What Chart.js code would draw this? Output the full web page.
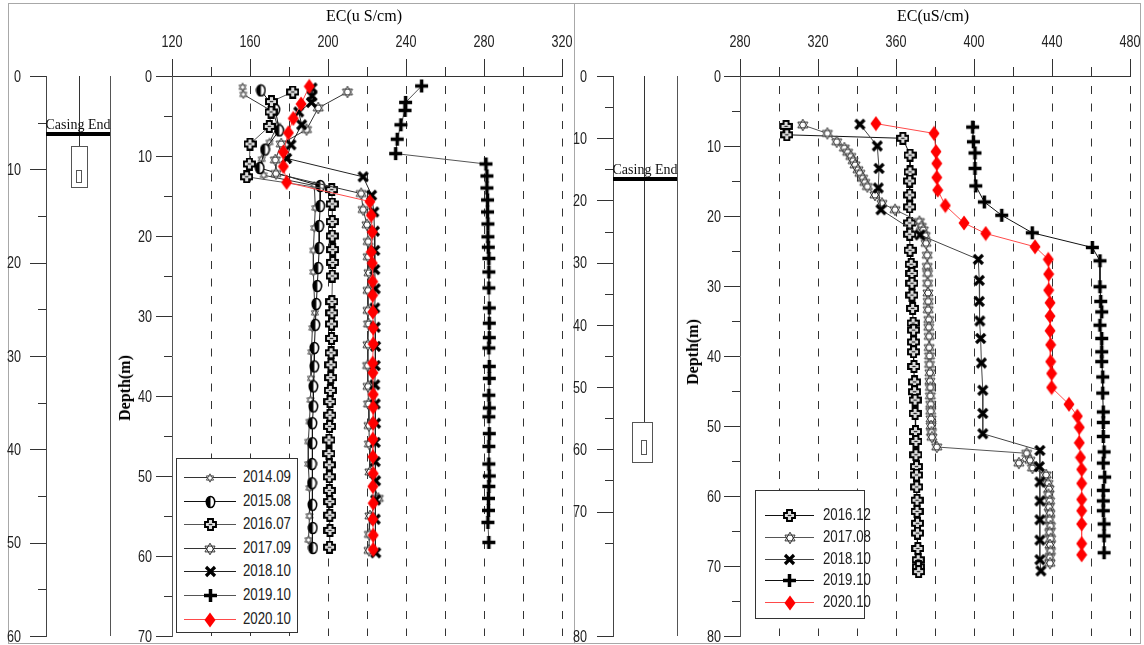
<!DOCTYPE html>
<html>
<head>
<meta charset="utf-8">
<title>EC x Profundidade</title>
<script src="https://cdn.jsdelivr.net/npm/chart.js@4.4.1/dist/chart.umd.min.js"></script>
<style>
  html, body { margin: 0; padding: 0; background: #fff; }
  #page { position: relative; width: 1144px; height: 645px; overflow: hidden; background: #fff; }
  #page > canvas { position: absolute; top: 0; }
  .panel { position: absolute; top: 3px; height: 641px; border: 1px solid #a8a8a8; box-sizing: border-box; }
  .axis-title { position: absolute; font-family: "Liberation Serif", "Times New Roman", serif; font-size: 16px; color: #000; white-space: nowrap; transform: translate(-50%, -50%); }
  .axis-title.vert { transform: translate(-50%, -50%) rotate(-90deg); font-weight: bold; }
  .legend { position: absolute; border: 1px solid #333; background: #fff; box-sizing: border-box; }
  .legend .item { position: absolute; left: 0; width: 100%; height: 20px; }
  .legend .item canvas { position: absolute; left: 0; top: 0; }
  .legend .item span { position: absolute; top: 0; line-height: 20px; font-family: "Liberation Sans", Arial, sans-serif; font-size: 17px; color: #222; transform: scaleX(0.78); transform-origin: left center; }
</style>
</head>
<body>
<div id="page">
  <div class="panel" style="left:8px; width:567px;"></div>
  <div class="panel" style="left:574px; width:567px;"></div>
  <canvas id="wellLeft" width="120" height="645" style="left:0"></canvas>
  <canvas id="ecLeft" width="480" height="645" style="left:100px"></canvas>
  <canvas id="wellRight" width="130" height="645" style="left:570px"></canvas>
  <canvas id="ecRight" width="464" height="645" style="left:680px"></canvas>
  <div class="axis-title" style="left:364px; top:16px">EC(u S/cm)</div>
  <div class="axis-title" style="left:933px; top:16px">EC(uS/cm)</div>
  <div class="axis-title vert" style="left:125px; top:388px">Depth(m)</div>
  <div class="axis-title vert" style="left:693px; top:352px">Depth(m)</div>
  <div class="legend" id="legendLeft" style="left:176px; top:458px; width:122px; height:175px"></div>
  <div class="legend" id="legendRight" style="left:755px; top:490px; width:110px; height:129px"></div>
</div>

<script>
// ---------- Eixos ----------
const leftEcTicks = [120, 160, 200, 240, 280, 320];
const rightEcTicks = [280, 320, 360, 400, 440, 480];
const leftDepthTicks = [0, 10, 20, 30, 40, 50, 60, 70];
const rightDepthTicks = [0, 10, 20, 30, 40, 50, 60, 70, 80];
const wellLeftTicks = [0, 10, 20, 30, 40, 50, 60];
// o eixo do poço da direita vai até 90, mas o último rótulo mostra "80"
const wellRightTickValues = [0, 10, 20, 30, 40, 50, 60, 70, 90];
const wellRightTickLabels = ['0', '10', '20', '30', '40', '50', '60', '70', '80'];
const wellLeftMinorTicks = [5, 15, 25, 35, 45, 55];
const wellRightMinorTicks = [5, 15, 25, 35, 45, 55, 65, 75];

// ---------- Poços (profundidades em m) ----------
const wellLeftCasingEnd = 6.2;
const wellLeftScreen = [7.5, 11.9];
const wellLeftInner = [10.1, 11.4];
const wellRightCasingEnd = 16.6;
const wellRightScreen = [55.6, 62.1];
const wellRightInner = [58.5, 60.8];

// ---------- Poço 1 (esquerda) ----------
const L2014_ec = [156.2, 156.6, 172, 174, 170, 166, 167, 193, 193.5, 193, 192.5, 192.5, 193.3, 192, 191.5, 191.3, 191, 190.5, 189.9, 189.9, 190.5, 190.5, 190];
const L2014_depth = [1.4, 2.3, 4.5, 6.2, 8.3, 10.4, 12.4, 13.7, 16.5, 19.0, 21.8, 24.5, 29.6, 31.5, 34.5, 37.8, 40.5, 43.2, 45.7, 48.5, 51.5, 55.0, 58.0];

const L2015_ec = [165.6, 173, 175, 167.7, 165, 196, 196, 195.5, 195.5, 195, 194.5, 194, 193.5, 193, 193, 192.5, 192.5, 192, 192, 191.8, 191.8, 192, 192.2, 192.3];
const L2015_depth = [1.8, 4.2, 6.8, 9.2, 11.5, 13.75, 16.25, 18.75, 21.5, 24.0, 26.25, 28.5, 31.1, 34.0, 36.3, 38.8, 41.3, 43.4, 45.9, 48.5, 50.9, 53.6, 56.5, 59.0];

const L2016_ec = [181.9, 171, 170.8, 169.9, 160, 159.7, 158.3, 201.9, 202.2, 202.2, 202.2, 202.4, 202.4, 202.2, 202, 202, 201.8, 201.8, 201.6, 201.5, 201.4, 201.2, 201, 201, 200.8, 200.5, 200.5, 200.7, 200.7, 200.7, 200.9, 200.9, 201, 200.8];
const L2016_depth = [2.0, 3.2, 4.5, 6.3, 8.5, 11.0, 12.6, 14.2, 16.0, 18.2, 20.0, 21.7, 23.3, 25.0, 28.2, 29.6, 31.0, 32.8, 34.6, 36.1, 37.7, 39.3, 40.7, 42.4, 43.8, 45.5, 47.2, 48.6, 50.1, 51.8, 53.2, 54.9, 56.8, 58.9];

const L2017_ec = [210, 195, 189, 176, 173, 173.3, 217, 218, 220, 220.6, 220.6, 221, 220.5, 220.5, 220.8, 220.5, 220.3, 220.5, 220.8, 221, 221.2, 221.5, 225.8, 221.5, 221.2, 221];
const L2017_depth = [2.0, 4.0, 6.7, 8.5, 10.5, 12.2, 14.7, 16.7, 18.6, 20.7, 22.6, 24.6, 26.8, 29.3, 31.0, 33.6, 36.2, 38.8, 41.0, 43.7, 46.0, 49.5, 52.8, 55.0, 57.3, 59.3];

const L2018_ec = [191.8, 191.8, 191.5, 185, 186.5, 181, 178.8, 218, 222.4, 223.5, 223.8, 224, 224, 224.2, 224, 224.2, 224.4, 224.2, 224, 224.2, 224.4, 224.2, 224.2, 224.4, 224.4, 224.2, 224.5];
const L2018_depth = [1.5, 2.5, 3.3, 4.5, 6.1, 8.6, 10.3, 12.6, 14.9, 17.0, 19.4, 21.8, 24.2, 26.6, 29.0, 31.4, 33.8, 36.2, 38.6, 41.0, 43.4, 45.8, 48.2, 50.6, 53.0, 55.4, 59.6];

const L2019_ec = [248, 239.8, 239.5, 237.4, 235.5, 234.7, 281, 281.5, 281.5, 281.8, 281.8, 282, 282, 282.2, 282.5, 282.5, 282.5, 282.7, 282.7, 282.7, 282.5, 282.7, 282.7, 282.5, 282.7, 282.5, 282.7, 282.5, 282.5, 282.7, 282.5, 282.3, 282.3, 282, 282.5];
const L2019_depth = [1.25, 3.3, 4.3, 6.1, 7.9, 9.7, 11.0, 12.5, 14.0, 15.5, 17.0, 18.5, 20.1, 21.4, 22.8, 24.5, 26.5, 29.0, 30.9, 32.7, 34.0, 36.3, 37.8, 39.9, 41.5, 42.6, 44.7, 46.3, 48.5, 50.0, 51.3, 52.8, 54.3, 55.8, 58.3];

const L2020_ec = [190.4, 186.2, 182.2, 179.7, 177.1, 177.1, 178.8, 221.5, 222.2, 222.7, 222.2, 222.7, 222.9, 222.9, 223, 223.2, 223.2, 222.9, 223, 223.2, 223.2, 223.2, 223, 223, 223.2, 223, 223.2, 223, 223.2, 223.2];
const L2020_depth = [1.3, 3.5, 5.3, 7.1, 9.5, 11.3, 13.3, 15.7, 17.4, 19.5, 22.0, 23.4, 25.7, 27.4, 29.5, 31.5, 33.5, 35.9, 37.1, 39.8, 41.4, 43.4, 45.4, 47.6, 49.7, 51.3, 53.4, 55.4, 57.4, 59.2];

// ---------- Poço 2 (direita) ----------
const R2016_ec = [303.6, 304, 363.5, 367.2, 367.2, 367, 367, 367, 367, 367, 367.2, 367.8, 368.2, 368.2, 368.2, 368.5, 368.8, 369, 369, 369, 369.2, 369.5, 369.5, 369.8, 369.8, 370, 370.2, 370.2, 370.5, 370.5, 370.6, 370.8, 370.8, 371, 371, 371.2, 371.4, 371.5, 371.6];
const R2016_depth = [7.2, 8.4, 8.9, 11.3, 13.7, 15.0, 17.0, 18.7, 21.0, 22.6, 24.9, 26.9, 28.2, 29.6, 31.3, 33.2, 35.3, 36.3, 38.0, 39.4, 41.5, 43.7, 45.1, 46.3, 48.2, 50.8, 52.2, 54.1, 55.8, 57.0, 58.7, 60.6, 62.2, 63.9, 65.3, 67.5, 69.1, 70.1, 70.8];

const R2017_ec = [312.2, 324.8, 329.6, 333.5, 335.2, 336.8, 338, 339, 340.5, 341.5, 342.9, 344, 345.3, 349.2, 352.8, 359.5, 372, 373, 374, 375, 375.4, 376, 376, 376.2, 376.2, 376.4, 376.5, 376.5, 376.8, 376.8, 377, 377, 377.2, 377.2, 377.4, 377.4, 377.6, 377.6, 377.8, 377.8, 378, 378, 378.2, 378.4, 380.9, 427, 423, 428.7, 430, 437, 438, 438.5, 438.2, 438.8, 438.5, 439, 438.7, 439.2, 438.8, 439.3, 439, 439.2, 438.8, 439];
const R2017_depth = [7.0, 8.2, 9.4, 10.3, 10.9, 11.5, 12.1, 12.7, 13.4, 13.9, 14.6, 15.2, 15.8, 17.0, 18.2, 19.1, 20.8, 21.5, 22.0, 22.8, 23.9, 25.6, 27.2, 28.2, 29.6, 31.0, 32.2, 33.4, 34.8, 35.9, 37.2, 38.8, 40.0, 41.2, 42.4, 43.6, 44.5, 45.7, 46.9, 47.9, 49.0, 50.0, 50.9, 51.6, 53.0, 53.9, 55.3, 54.9, 56.0, 57.0, 58.2, 59.0, 59.8, 60.7, 61.6, 62.5, 63.4, 64.3, 65.2, 66.1, 67.0, 67.9, 68.8, 69.6];

const R2018_ec = [341.5, 350.4, 351.3, 350.9, 352.3, 372.3, 402.2, 402.7, 402.7, 403, 403.4, 403.8, 404.5, 404.5, 404.5, 433.8, 433.5, 433.8, 433.8, 433.8, 433.8, 433.8, 434.3];
const R2018_depth = [6.9, 10.0, 13.2, 16.0, 19.1, 22.7, 26.2, 29.2, 32.2, 35.0, 37.5, 41.0, 44.9, 48.2, 51.1, 53.5, 55.8, 58.0, 60.7, 63.4, 66.3, 69.1, 70.7];

const R2019_ec = [399.3, 399.7, 400.5, 400.5, 400.9, 405.3, 414.2, 429.9, 460.7, 464.6, 464.6, 465, 465.5, 464.6, 465.5, 465.5, 465.5, 466, 466, 466.3, 466.3, 466.3, 466.7, 466.3, 467, 466.3, 466.3, 466.3, 466.7, 466.7, 466.7];
const R2019_depth = [7.3, 9.4, 11.0, 13.2, 15.7, 18.0, 19.9, 22.4, 24.5, 26.4, 30.1, 32.2, 33.7, 35.6, 37.5, 39.4, 40.8, 43.0, 45.3, 48.0, 49.5, 51.5, 53.7, 55.3, 57.3, 59.2, 60.7, 62.1, 64.0, 65.7, 68.1];

const R2020_ec = [349.7, 379.5, 380.5, 380.9, 380.9, 381.4, 385.3, 394.9, 406, 431.3, 438.1, 438.3, 438.3, 439, 439, 439, 439.3, 439.3, 439.8, 439.8, 448.7, 453, 454, 454, 454.6, 455.2, 455.2, 455.2, 455.2, 455.2, 455.2, 455.2];
const R2020_depth = [6.8, 8.2, 10.8, 12.5, 14.5, 16.3, 18.5, 21.0, 22.5, 24.4, 26.2, 28.3, 30.6, 32.4, 34.3, 36.4, 38.4, 40.8, 42.5, 44.5, 46.9, 48.6, 50.2, 52.4, 54.5, 56.2, 58.2, 60.5, 62.1, 64.0, 66.8, 68.4];

// ---------- Fontes ----------
const labelFont = '17px "Liberation Sans", Arial, sans-serif';
const labelSqueeze = 0.74; // rótulos estreitos como no original

// ---------- Marcadores desenhados num canvas ----------
function hexagram(g, cx, cy, r, stroke, fill, lw) {
    const tri = (start) => {
        g.beginPath();
        for (let k = 0; k < 3; k++) {
            const a = (start + k * 120) * Math.PI / 180;
            const px = cx + r * Math.cos(a), py = cy + r * Math.sin(a);
            k === 0 ? g.moveTo(px, py) : g.lineTo(px, py);
        }
        g.closePath();
    };
    g.fillStyle = fill;
    tri(-90); g.fill();
    tri(90); g.fill();
    g.strokeStyle = stroke; g.lineWidth = lw;
    tri(-90); g.stroke();
    tri(90); g.stroke();
}

function makeMarker(kind) {
    const c = document.createElement('canvas');
    let g;
    if (kind === 'smallStar') {
        c.width = 10; c.height = 10;
        g = c.getContext('2d');
        hexagram(g, 5, 5, 4.2, '#555', '#fff', 1);
    } else if (kind === 'halfCircle') {
        c.width = 11; c.height = 14;
        g = c.getContext('2d');
        g.beginPath(); g.ellipse(5.5, 7, 4.2, 5.6, 0, 0, Math.PI * 2);
        g.fillStyle = '#fff'; g.fill();
        g.save(); g.clip();
        g.fillStyle = '#000'; g.fillRect(0, 0, 5.5, 14);
        g.restore();
        g.strokeStyle = '#000'; g.lineWidth = 1.5; g.stroke();
    } else if (kind === 'outlineCross') {
        c.width = 13; c.height = 13;
        g = c.getContext('2d');
        const m = 6.5, a = 2.5, L = 5.5;
        const pts = [[-a,-L],[a,-L],[a,-a],[L,-a],[L,a],[a,a],[a,L],[-a,L],[-a,a],[-L,a],[-L,-a],[-a,-a]];
        g.beginPath();
        pts.forEach((p, i) => i ? g.lineTo(m + p[0], m + p[1]) : g.moveTo(m + p[0], m + p[1]));
        g.closePath();
        g.fillStyle = '#dcdcdc'; g.fill();
        g.strokeStyle = '#000'; g.lineWidth = 1.9; g.stroke();
        g.beginPath(); g.moveTo(m - 1.8, m); g.lineTo(m + 1.8, m);
        g.strokeStyle = '#222'; g.lineWidth = 1.2; g.stroke();
    } else if (kind === 'hexStar') {
        c.width = 14; c.height = 14;
        g = c.getContext('2d');
        hexagram(g, 7, 7, 5.8, '#333', '#fff', 1);
    } else if (kind === 'boldX') {
        c.width = 13; c.height = 13;
        g = c.getContext('2d');
        g.strokeStyle = '#000'; g.lineWidth = 3.2;
        g.beginPath(); g.moveTo(2, 2); g.lineTo(11, 11); g.moveTo(11, 2); g.lineTo(2, 11); g.stroke();
    } else if (kind === 'boldPlus') {
        c.width = 15; c.height = 15;
        g = c.getContext('2d');
        g.strokeStyle = '#000'; g.lineWidth = 3.5;
        g.beginPath(); g.moveTo(7.5, 1); g.lineTo(7.5, 14); g.moveTo(1, 7.5); g.lineTo(14, 7.5); g.stroke();
    } else if (kind === 'diamond') {
        c.width = 12; c.height = 16;
        g = c.getContext('2d');
        g.beginPath(); g.moveTo(6, 0.5); g.lineTo(11.5, 8); g.lineTo(6, 15.5); g.lineTo(0.5, 8); g.closePath();
        g.fillStyle = '#ff0000'; g.fill();
    }
    return c;
}

const markers = {};
['smallStar', 'halfCircle', 'outlineCross', 'hexStar', 'boldX', 'boldPlus', 'diamond'].forEach(k => markers[k] = makeMarker(k));

// ---------- Séries ----------
function toPoints(ec, depth) {
    return ec.map((v, i) => ({ x: v, y: depth[i] }));
}

function makeDataset(label, ec, depth, marker, lineColor, order) {
    return {
        label: label,
        data: toPoints(ec, depth),
        showLine: true,
        borderColor: lineColor,
        borderWidth: 1,
        backgroundColor: lineColor,
        pointStyle: markers[marker],
        pointRadius: 6,
        pointHoverRadius: 6,
        tension: 0,
        order: order || 0,
        marker: marker
    };
}

const leftSeries = [
    makeDataset('2014.09', L2014_ec, L2014_depth, 'smallStar', '#333', 6),
    makeDataset('2015.08', L2015_ec, L2015_depth, 'halfCircle', '#111', 5),
    makeDataset('2016.07', L2016_ec, L2016_depth, 'outlineCross', '#555', 4),
    makeDataset('2017.09', L2017_ec, L2017_depth, 'hexStar', '#333', 3),
    makeDataset('2018.10', L2018_ec, L2018_depth, 'boldX', '#222', 2),
    makeDataset('2019.10', L2019_ec, L2019_depth, 'boldPlus', '#555', 1),
    makeDataset('2020.10', L2020_ec, L2020_depth, 'diamond', '#ff4a4a', 0)
];

const rightSeries = [
    makeDataset('2016.12', R2016_ec, R2016_depth, 'outlineCross', '#111', 4),
    makeDataset('2017.08', R2017_ec, R2017_depth, 'hexStar', '#555', 3),
    makeDataset('2018.10', R2018_ec, R2018_depth, 'boldX', '#444', 2),
    makeDataset('2019.10', R2019_ec, R2019_depth, 'boldPlus', '#111', 1),
    makeDataset('2020.10', R2020_ec, R2020_depth, 'diamond', '#ff4a4a', 0)
];

// ---------- Plugins ----------
// Marcas e rótulos de escala: marcas maiores nos rótulos, menores entre eles
function axisMarks(axes) {
    return {
        id: 'axisMarks',
        afterDraw(chart) {
            const ctx = chart.ctx;
            axes.forEach(ax => {
                const scale = chart.scales[ax.id];
                ctx.save();
                ctx.strokeStyle = ax.color;
                ctx.lineWidth = 1;
                scale.ticks.forEach(t => {
                    const len = ax.major.includes(t.value) ? ax.majorLen : ax.minorLen;
                    const p = Math.round(scale.getPixelForValue(t.value)) + 0.5;
                    ctx.beginPath();
                    if (scale.isHorizontal()) {
                        ctx.moveTo(p, scale.bottom); ctx.lineTo(p, scale.bottom - len);
                    } else {
                        ctx.moveTo(scale.right, p); ctx.lineTo(scale.right - len, p);
                    }
                    ctx.stroke();
                });
                // rótulos
                ctx.fillStyle = '#222';
                ctx.font = labelFont;
                ctx.textBaseline = 'middle';
                ax.major.forEach((v, i) => {
                    const p = scale.getPixelForValue(v);
                    const text = ax.labels ? ax.labels[i] : String(v);
                    ctx.save();
                    if (scale.isHorizontal()) {
                        ctx.translate(p, scale.bottom - ax.labelGap);
                        ctx.textAlign = 'center';
                    } else {
                        ctx.translate(scale.right - ax.labelGap, p + 1);
                        ctx.textAlign = 'right';
                    }
                    ctx.scale(labelSqueeze, 1);
                    ctx.fillText(text, 0, 0);
                    ctx.restore();
                });
                ctx.restore();
            });
        }
    };
}

// Desenho do poço (revestimento e filtro)
function wellDrawing(cfg) {
    return {
        id: 'wellDrawing',
        afterDraw(chart) {
            const { ctx, chartArea: a } = chart;
            const y = chart.scales.y;
            const xAt = f => a.left + f * (a.right - a.left);
            const yc = Math.round(y.getPixelForValue(cfg.casingEnd));
            const yTop = Math.round(y.getPixelForValue(cfg.screen[0])) + 0.5;
            const yBot = Math.round(y.getPixelForValue(cfg.screen[1])) + 0.5;
            const yiTop = Math.round(y.getPixelForValue(cfg.inner[0])) + 0.5;
            const yiBot = Math.round(y.getPixelForValue(cfg.inner[1])) + 0.5;
            ctx.save();
            ctx.strokeStyle = '#555';
            ctx.lineWidth = 1;
            // parede direita
            ctx.beginPath();
            ctx.moveTo(Math.round(a.right) + 0.5, a.top);
            ctx.lineTo(Math.round(a.right) + 0.5, a.bottom);
            ctx.stroke();
            // tubo central
            const cx = Math.round(xAt(cfg.center)) + 0.5;
            ctx.strokeStyle = '#333';
            ctx.beginPath(); ctx.moveTo(cx, a.top); ctx.lineTo(cx, yTop); ctx.stroke();
            // filtro
            ctx.strokeStyle = '#555';
            ctx.strokeRect(Math.round(xAt(cfg.box[0])) + 0.5, yTop, Math.round(xAt(cfg.box[1]) - xAt(cfg.box[0])), yBot - yTop);
            ctx.strokeRect(Math.round(xAt(cfg.innerBox[0])) + 0.5, yiTop, Math.round(xAt(cfg.innerBox[1]) - xAt(cfg.innerBox[0])), yiBot - yiTop);
            // fim do revestimento
            ctx.strokeStyle = '#000';
            ctx.lineWidth = 4;
            ctx.beginPath(); ctx.moveTo(a.left, yc); ctx.lineTo(a.right, yc); ctx.stroke();
            ctx.fillStyle = '#111';
            ctx.font = '14px "Liberation Serif", "Times New Roman", serif';
            ctx.textAlign = 'center';
            ctx.textBaseline = 'alphabetic';
            ctx.fillText('Casing End', (a.left + a.right) / 2, yc - 5);
            ctx.restore();
        }
    };
}

// ---------- Gráficos ----------
function ecChart(id, datasets, ecTicks, depthTicks, yWidth, padRight, yGap) {
    const xMin = ecTicks[0], xMax = ecTicks[ecTicks.length - 1];
    const yMax = depthTicks[depthTicks.length - 1];
    return new Chart(document.getElementById(id), {
        type: 'scatter',
        data: { datasets: datasets },
        options: {
            responsive: false,
            animation: false,
            events: [],
            layout: { padding: { top: 0, right: padRight, bottom: 9, left: 0 } },
            plugins: { legend: { display: false }, tooltip: { enabled: false } },
            scales: {
                x: {
                    type: 'linear', position: 'top', min: xMin, max: xMax,
                    afterFit: s => { s.height = 76; },
                    ticks: { stepSize: 20, display: false },
                    grid: {
                        drawTicks: false, lineWidth: 1,
                        color: c => (c.tick && c.tick.value === xMin) ? 'rgba(0,0,0,0)' : '#333'
                    },
                    border: { display: true, color: '#333', dash: [8, 9.5], dashOffset: 8.5 }
                },
                y: {
                    type: 'linear', reverse: true, min: 0, max: yMax,
                    afterFit: s => { s.width = yWidth; },
                    ticks: { stepSize: 5, display: false },
                    grid: { drawOnChartArea: false, drawTicks: false },
                    border: { display: true, color: '#555' }
                }
            }
        },
        plugins: [axisMarks([
            { id: 'x', major: ecTicks, majorLen: 17, minorLen: 9, color: '#333', labelGap: 34 },
            { id: 'y', major: depthTicks, majorLen: 16, minorLen: 8, color: '#333', labelGap: yGap }
        ])]
    });
}

function wellChart(id, yMax, tickValues, tickLabels, minorTicks, yWidth, padRight, yGap, well) {
    return new Chart(document.getElementById(id), {
        type: 'scatter',
        data: { datasets: [] },
        options: {
            responsive: false,
            animation: false,
            events: [],
            layout: { padding: { top: 76, right: padRight, bottom: 9, left: 0 } },
            plugins: { legend: { display: false }, tooltip: { enabled: false } },
            scales: {
                x: { type: 'linear', display: false, min: 0, max: 1 },
                y: {
                    type: 'linear', reverse: true, min: 0, max: yMax,
                    afterFit: s => { s.width = yWidth; },
                    afterBuildTicks: s => {
                        const vals = tickValues.concat(minorTicks).sort((p, q) => p - q);
                        s.ticks = vals.map(v => ({ value: v }));
                    },
                    ticks: { display: false },
                    grid: { drawOnChartArea: false, drawTicks: false },
                    border: { display: true, color: '#444' }
                }
            }
        },
        plugins: [
            axisMarks([{ id: 'y', major: tickValues, labels: tickLabels, majorLen: 16, minorLen: 8, color: '#333', labelGap: yGap }]),
            wellDrawing(well)
        ]
    });
}

// ---------- Legenda HTML ----------
function buildLegend(boxId, datasets, firstY, stepY, lineX0, lineX1, textX) {
    const box = document.getElementById(boxId);
    datasets.forEach((ds, i) => {
        const item = document.createElement('div');
        item.className = 'item';
        item.style.top = (firstY + i * stepY - 10) + 'px';
        const c = document.createElement('canvas');
        c.width = textX; c.height = 20;
        const g = c.getContext('2d');
        g.strokeStyle = ds.borderColor;
        g.lineWidth = 1;
        g.beginPath(); g.moveTo(lineX0, 10.5); g.lineTo(lineX1, 10.5); g.stroke();
        const m = markers[ds.marker];
        g.drawImage(m, Math.round((lineX0 + lineX1) / 2 - m.width / 2), Math.round(10.5 - m.height / 2));
        const span = document.createElement('span');
        span.style.left = textX + 'px';
        span.textContent = ds.label;
        item.appendChild(c);
        item.appendChild(span);
        box.appendChild(item);
    });
}

// ---------- Inicialização ----------
wellChart('wellLeft', 60, wellLeftTicks, wellLeftTicks.map(String), wellLeftMinorTicks, 46, 10, 25, {
    casingEnd: wellLeftCasingEnd, screen: wellLeftScreen, inner: wellLeftInner,
    center: 0.516, box: [0.39, 0.64], innerBox: [0.47, 0.55]
});
ecChart('ecLeft', leftSeries, leftEcTicks, leftDepthTicks, 72, 18, 20);

wellChart('wellRight', 90, wellRightTickValues, wellRightTickLabels, wellRightMinorTicks, 43, 23, 26, {
    casingEnd: wellRightCasingEnd, screen: wellRightScreen, inner: wellRightInner,
    center: 0.484, box: [0.30, 0.62], innerBox: [0.43, 0.51]
});
ecChart('ecRight', rightSeries, rightEcTicks, rightDepthTicks, 60, 14, 19);

buildLegend('legendLeft', leftSeries, 18, 23.6, 7, 59, 66);
buildLegend('legendRight', rightSeries, 24, 21.8, 9, 58, 67);
</script>
</body>
</html>
